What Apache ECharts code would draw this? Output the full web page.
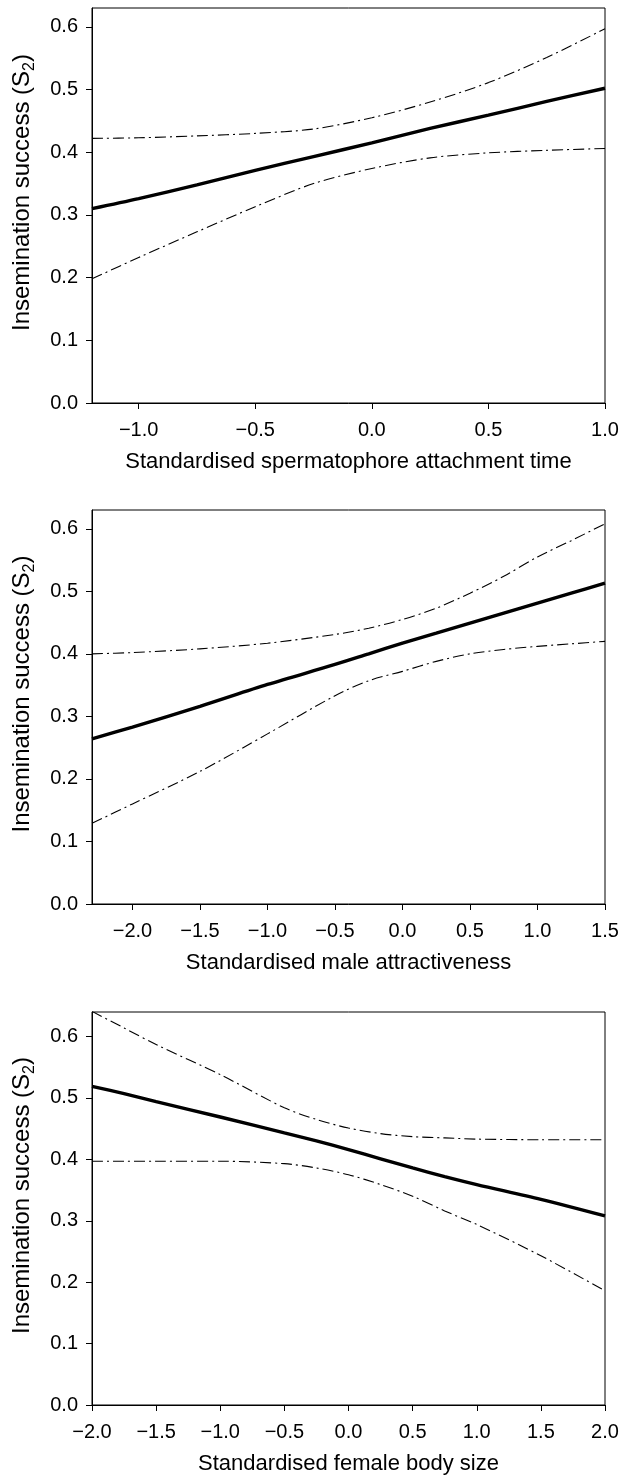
<!DOCTYPE html>
<html>
<head>
<meta charset="utf-8">
<script src="https://cdn.jsdelivr.net/npm/echarts@6/dist/echarts.min.js"></script>
<style>
  html, body { margin: 0; padding: 0; background: #fff; }
  #chart { width: 628px; height: 1476px; }
</style>
</head>
<body>
<div id="chart"></div>
<script>
// panel 1: spermatophore attachment time
var x1 = [-1.2, -1.0, -0.75, -0.5, -0.25, 0, 0.25, 0.5, 0.75, 1.0];
var fit1 = [0.310, 0.326, 0.348, 0.371, 0.393, 0.415, 0.438, 0.459, 0.481, 0.502];
var upper1 = [0.422, 0.423, 0.426, 0.430, 0.437, 0.455, 0.480, 0.511, 0.551, 0.597];
var lower1 = [0.198, 0.232, 0.273, 0.313, 0.350, 0.374, 0.391, 0.399, 0.403, 0.406];

// panel 2: male attractiveness
var x2 = [-2.3, -2.0, -1.5, -1.0, -0.5, -0.25, 0, 0.25, 0.5, 0.75, 1.0, 1.25, 1.5];
var fit2 = [0.264, 0.283, 0.316, 0.351, 0.383, 0.400, 0.417, 0.433, 0.449, 0.465, 0.481, 0.497, 0.513];
var upper2 = [0.400, 0.402, 0.408, 0.417, 0.431, 0.441, 0.455, 0.473, 0.497, 0.524, 0.555, 0.581, 0.608];
var lower2 = [0.129, 0.160, 0.212, 0.272, 0.333, 0.357, 0.372, 0.388, 0.400, 0.407, 0.412, 0.416, 0.420];

// panel 3: female body size
var x3 = [-2.0, -1.75, -1.5, -1.0, -0.5, -0.25, 0, 0.25, 0.5, 0.75, 1.0, 1.5, 2.0];
var fit3 = [0.519, 0.507, 0.494, 0.469, 0.443, 0.430, 0.416, 0.401, 0.386, 0.372, 0.359, 0.335, 0.308];
var upper3 = [0.641, 0.614, 0.587, 0.538, 0.484, 0.465, 0.451, 0.442, 0.437, 0.435, 0.433, 0.432, 0.432];
var lower3 = [0.397, 0.397, 0.397, 0.397, 0.393, 0.386, 0.375, 0.359, 0.340, 0.316, 0.294, 0.243, 0.186];

var yTicks = [0, 0.1, 0.2, 0.3, 0.4, 0.5, 0.6];
var xTicks1 = [-1.0, -0.5, 0, 0.5, 1.0];
var xTicks2 = [-2.0, -1.5, -1.0, -0.5, 0, 0.5, 1.0, 1.5];
var xTicks3 = [-2.0, -1.5, -1.0, -0.5, 0, 0.5, 1.0, 1.5, 2.0];

var xNames = [
  'Standardised spermatophore attachment time',
  'Standardised male attractiveness',
  'Standardised female body size'
];
var yName = 'Insemination success (S{sub|2})';

var font = '"Liberation Sans", Arial, sans-serif';

function fmt(v) {
  return (v < 0 ? '\u2212' : '') + Math.abs(v).toFixed(1);
}

function pairs(xs, ys) {
  return xs.map(function (v, i) { return [v, ys[i]]; });
}

function xAxisFor(idx, min, max, ticks, name) {
  return {
    type: 'value', gridIndex: idx, min: min, max: max,
    name: name, nameLocation: 'middle', nameGap: 48,
    nameTextStyle: { fontSize: 22, color: '#000', fontFamily: font },
    axisLine: { show: true, onZero: false, lineStyle: { color: '#000', width: 1 } },
    axisTick: { show: true, inside: false, length: 6, customValues: ticks, lineStyle: { color: '#000', width: 1 } },
    axisLabel: { customValues: ticks, formatter: fmt, fontSize: 20, color: '#000', fontFamily: font, margin: 17 },
    splitLine: { show: false }
  };
}

function yAxisFor(idx, max) {
  return {
    type: 'value', gridIndex: idx, min: 0, max: max,
    name: yName, nameLocation: 'middle', nameGap: 54,
    nameTextStyle: {
      fontSize: 24, color: '#000', fontFamily: font, padding: [0, 0, 0, 26],
      rich: {
        sub: { fontSize: 16, color: '#000', fontFamily: font, verticalAlign: 'bottom', lineHeight: 32 }
      }
    },
    axisLine: { show: true, onZero: false, lineStyle: { color: '#000', width: 1 } },
    axisTick: { show: true, inside: false, length: 6, customValues: yTicks, lineStyle: { color: '#000', width: 1 } },
    axisLabel: { customValues: yTicks, formatter: function (v) { return v.toFixed(1); }, fontSize: 20, color: '#000', fontFamily: font, margin: 14 },
    splitLine: { show: false }
  };
}

function fitSeries(idx, xs, ys) {
  return {
    type: 'line', xAxisIndex: idx, yAxisIndex: idx, data: pairs(xs, ys),
    symbol: 'none', smooth: 0.3, silent: true,
    lineStyle: { color: '#000', width: 3.4 }
  };
}

function ciSeries(idx, xs, ys) {
  return {
    type: 'line', xAxisIndex: idx, yAxisIndex: idx, data: pairs(xs, ys),
    symbol: 'none', smooth: 0.3, silent: true,
    lineStyle: { color: '#000', width: 1.1, type: [11, 4, 2, 4] }
  };
}

var gridBase = { left: 92, right: 23, height: 395, show: true, borderColor: '#000', borderWidth: 1, backgroundColor: '#fff' };

var option = {
  animation: false,
  backgroundColor: '#fff',
  grid: [
    Object.assign({}, gridBase, { top: 8 }),
    Object.assign({}, gridBase, { top: 510, height: 394 }),
    Object.assign({}, gridBase, { top: 1012, height: 394 })
  ],
  xAxis: [
    xAxisFor(0, -1.2, 1.0, xTicks1, xNames[0]),
    xAxisFor(1, -2.3, 1.5, xTicks2, xNames[1]),
    xAxisFor(2, -2.0, 2.0, xTicks3, xNames[2])
  ],
  yAxis: [
    yAxisFor(0, 0.63),
    yAxisFor(1, 0.63),
    yAxisFor(2, 0.64)
  ],
  series: [
    ciSeries(0, x1, upper1), ciSeries(0, x1, lower1), fitSeries(0, x1, fit1),
    ciSeries(1, x2, upper2), ciSeries(1, x2, lower2), fitSeries(1, x2, fit2),
    ciSeries(2, x3, upper3), ciSeries(2, x3, lower3), fitSeries(2, x3, fit3)
  ]
};

echarts.init(document.getElementById('chart')).setOption(option);
</script>
</body>
</html>
